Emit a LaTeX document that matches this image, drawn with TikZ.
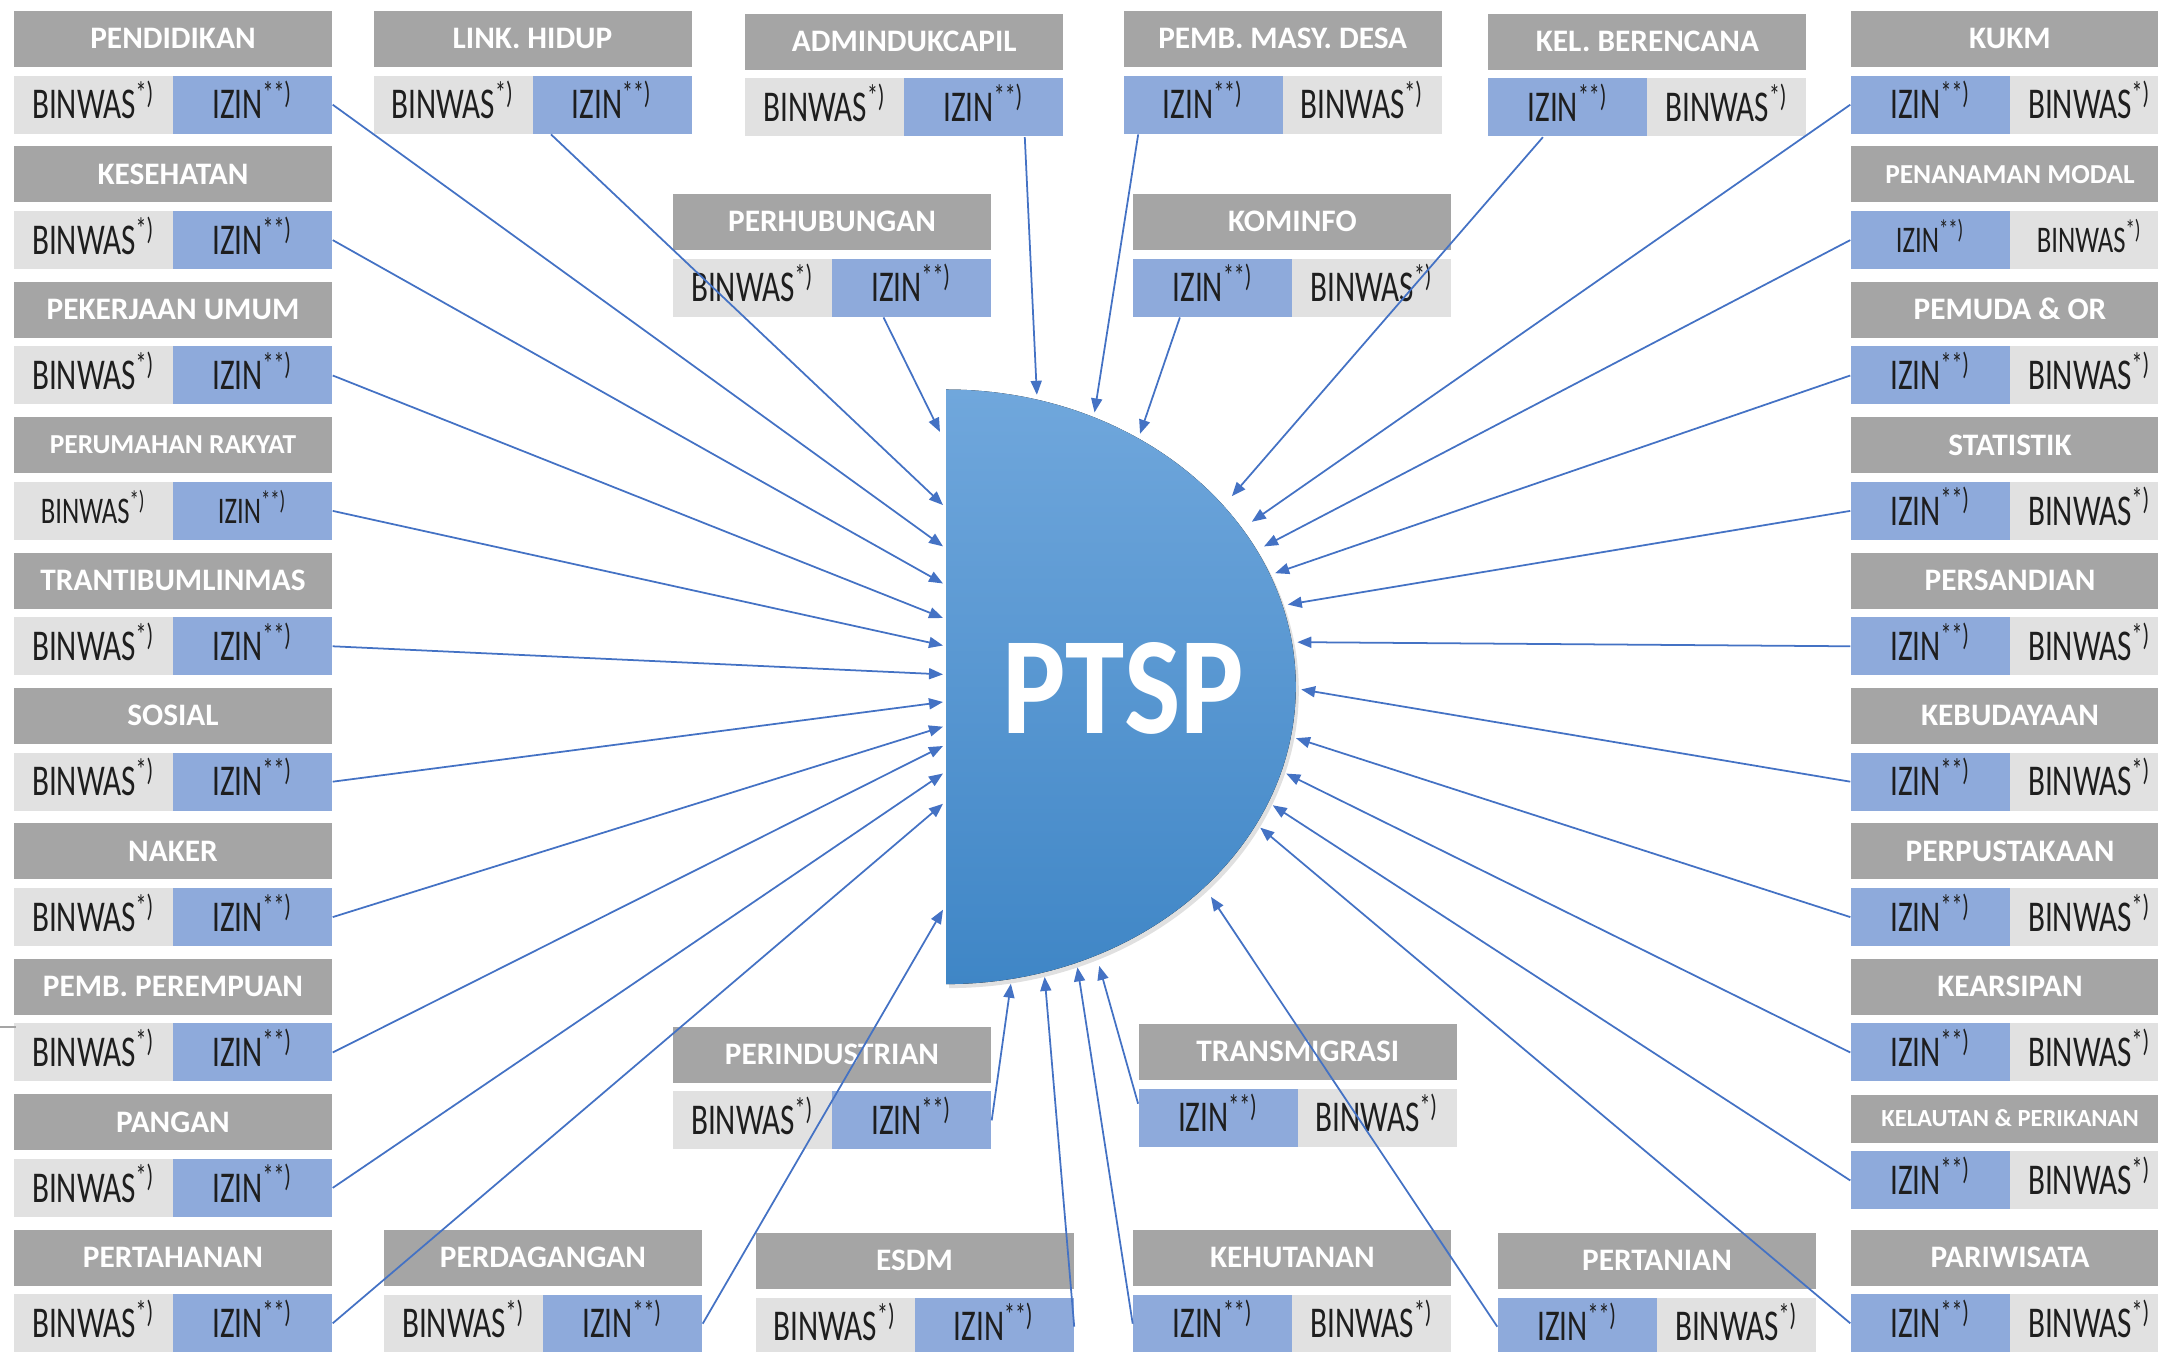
\documentclass[tikz,border=0pt]{standalone}
\usepackage{fontspec}
\setmainfont{Carlito}
\newfontfamily\rowfont[FakeStretch=0.71]{Carlito}
\newfontfamily\ptspfont[FakeStretch=0.86]{Carlito}
\usetikzlibrary{arrows.meta}
\pgfdeclarelayer{edgelayer}
\pgfdeclarelayer{nodelayer}
\pgfsetlayers{nodelayer,main,edgelayer}
\definecolor{hdrgrey}{RGB}{165,165,165}
\definecolor{cellgrey}{RGB}{225,225,225}
\definecolor{cellblue}{RGB}{142,170,219}
\definecolor{linkblue}{RGB}{68,114,196}
\definecolor{ptsptop}{RGB}{112,167,220}
\definecolor{ptspbottom}{RGB}{63,134,198}
\definecolor{txtgrey}{RGB}{30,30,30}
\tikzstyle{grey}=[rectangle,fill=hdrgrey,text=white,minimum width=3.18cm,minimum height=0.56cm,inner sep=0pt,text height=2mm,text depth=0pt,font=\fontsize{8.9}{10}\selectfont\bfseries]
\tikzstyle{lightgrey}=[rectangle,fill=cellgrey,text=txtgrey,minimum width=1.59cm,minimum height=0.58cm,inner sep=0pt,text height=2.85mm,text depth=0pt,font=\rowfont\fontsize{12.5}{14}\selectfont]
\tikzstyle{lightblue}=[lightgrey,fill=cellblue]
\tikzstyle{tinyhead}=[font=\fontsize{7.8}{9}\selectfont\bfseries,text height=1.75mm]
\tikzstyle{tinierhead}=[font=\fontsize{7}{8}\selectfont\bfseries,text height=1.6mm,minimum height=0.48cm]
\tikzstyle{tinycell}=[font=\rowfont\fontsize{10.7}{12}\selectfont,text height=2.45mm]
\tikzstyle{bigwhite}=[text=white,inner sep=0pt,font=\ptspfont\fontsize{39.5}{40}\selectfont\bfseries]
\tikzstyle{blueline}=[draw=linkblue,line width=0.5pt,-{Triangle[length=1.4mm,width=1.1mm]}]
\newcommand{\binwas}{BINWAS\textsuperscript{*)}}
\newcommand{\izin}{IZIN\textsuperscript{**)}}

\begin{document}
\begin{tikzpicture}
	\useasboundingbox (0,0) rectangle (21.58,-13.52);
	\begin{pgfonlayer}{nodelayer}
		\node [style=grey] (0) at (1.730,-0.390) {PENDIDIKAN};
		\node [style=lightgrey] (1) at (0.935,-1.047) {\binwas};
		\node [style=lightblue] (2) at (2.525,-1.047) {\izin};
		\node [style=grey] (3) at (1.730,-1.744) {KESEHATAN};
		\node [style=lightgrey] (4) at (0.935,-2.401) {\binwas};
		\node [style=lightblue] (5) at (2.525,-2.401) {\izin};
		\node [style=grey] (6) at (1.730,-3.098) {PEKERJAAN UMUM};
		\node [style=lightgrey] (7) at (0.935,-3.755) {\binwas};
		\node [style=lightblue] (8) at (2.525,-3.755) {\izin};
		\node [style=grey,tinyhead] (9) at (1.730,-4.452) {PERUMAHAN RAKYAT};
		\node [style=lightgrey,tinycell] (10) at (0.935,-5.109) {\binwas};
		\node [style=lightblue,tinycell] (11) at (2.525,-5.109) {\izin};
		\node [style=grey] (12) at (1.730,-5.806) {TRANTIBUMLINMAS};
		\node [style=lightgrey] (13) at (0.935,-6.463) {\binwas};
		\node [style=lightblue] (14) at (2.525,-6.463) {\izin};
		\node [style=grey] (15) at (1.730,-7.160) {SOSIAL};
		\node [style=lightgrey] (16) at (0.935,-7.817) {\binwas};
		\node [style=lightblue] (17) at (2.525,-7.817) {\izin};
		\node [style=grey] (18) at (1.730,-8.514) {NAKER};
		\node [style=lightgrey] (19) at (0.935,-9.171) {\binwas};
		\node [style=lightblue] (20) at (2.525,-9.171) {\izin};
		\node [style=grey] (21) at (1.730,-9.868) {PEMB. PEREMPUAN};
		\node [style=lightgrey] (22) at (0.935,-10.525) {\binwas};
		\node [style=lightblue] (23) at (2.525,-10.525) {\izin};
		\node [style=grey] (24) at (1.730,-11.222) {PANGAN};
		\node [style=lightgrey] (25) at (0.935,-11.879) {\binwas};
		\node [style=lightblue] (26) at (2.525,-11.879) {\izin};
		\node [style=grey] (27) at (1.730,-12.576) {PERTAHANAN};
		\node [style=lightgrey] (28) at (0.935,-13.233) {\binwas};
		\node [style=lightblue] (29) at (2.525,-13.233) {\izin};
		\node [style=grey] (30) at (5.325,-0.390) {LINK. HIDUP};
		\node [style=lightgrey] (31) at (4.530,-1.047) {\binwas};
		\node [style=lightblue] (32) at (6.120,-1.047) {\izin};
		\node [style=grey] (33) at (9.043,-0.418) {ADMINDUKCAPIL};
		\node [style=lightgrey] (34) at (8.248,-1.075) {\binwas};
		\node [style=lightblue] (35) at (9.838,-1.075) {\izin};
		\node [style=grey] (36) at (12.827,-0.390) {PEMB. MASY. DESA};
		\node [style=lightgrey] (37) at (13.622,-1.047) {\binwas};
		\node [style=lightblue] (38) at (12.032,-1.047) {\izin};
		\node [style=grey] (39) at (16.474,-0.418) {KEL. BERENCANA};
		\node [style=lightgrey] (40) at (17.269,-1.075) {\binwas};
		\node [style=lightblue] (41) at (15.679,-1.075) {\izin};
		\node [style=grey] (42) at (8.320,-2.220) {PERHUBUNGAN};
		\node [style=lightgrey] (43) at (7.525,-2.877) {\binwas};
		\node [style=lightblue] (44) at (9.115,-2.877) {\izin};
		\node [style=grey] (45) at (12.924,-2.220) {KOMINFO};
		\node [style=lightgrey] (46) at (13.719,-2.877) {\binwas};
		\node [style=lightblue] (47) at (12.129,-2.877) {\izin};
		\node [style=grey] (48) at (8.320,-10.547) {PERINDUSTRIAN};
		\node [style=lightgrey] (49) at (7.525,-11.204) {\binwas};
		\node [style=lightblue] (50) at (9.115,-11.204) {\izin};
		\node [style=grey] (51) at (12.978,-10.520) {TRANSMIGRASI};
		\node [style=lightgrey] (52) at (13.773,-11.177) {\binwas};
		\node [style=lightblue] (53) at (12.183,-11.177) {\izin};
		\node [style=grey] (54) at (5.430,-12.580) {PERDAGANGAN};
		\node [style=lightgrey] (55) at (4.635,-13.237) {\binwas};
		\node [style=lightblue] (56) at (6.225,-13.237) {\izin};
		\node [style=grey] (57) at (9.145,-12.610) {ESDM};
		\node [style=lightgrey] (58) at (8.350,-13.267) {\binwas};
		\node [style=lightblue] (59) at (9.940,-13.267) {\izin};
		\node [style=grey] (60) at (12.924,-12.580) {KEHUTANAN};
		\node [style=lightgrey] (61) at (13.719,-13.237) {\binwas};
		\node [style=lightblue] (62) at (12.129,-13.237) {\izin};
		\node [style=grey] (63) at (16.570,-12.610) {PERTANIAN};
		\node [style=lightgrey] (64) at (17.365,-13.267) {\binwas};
		\node [style=lightblue] (65) at (15.775,-13.267) {\izin};
		\node [style=grey] (66) at (20.100,-0.390) {KUKM};
		\node [style=lightgrey] (67) at (20.895,-1.047) {\binwas};
		\node [style=lightblue] (68) at (19.305,-1.047) {\izin};
		\node [style=grey,tinyhead] (69) at (20.100,-1.744) {PENANAMAN MODAL};
		\node [style=lightgrey,tinycell] (70) at (20.895,-2.401) {\binwas};
		\node [style=lightblue,tinycell] (71) at (19.305,-2.401) {\izin};
		\node [style=grey] (72) at (20.100,-3.098) {PEMUDA \& OR};
		\node [style=lightgrey] (73) at (20.895,-3.755) {\binwas};
		\node [style=lightblue] (74) at (19.305,-3.755) {\izin};
		\node [style=grey] (75) at (20.100,-4.452) {STATISTIK};
		\node [style=lightgrey] (76) at (20.895,-5.109) {\binwas};
		\node [style=lightblue] (77) at (19.305,-5.109) {\izin};
		\node [style=grey] (78) at (20.100,-5.806) {PERSANDIAN};
		\node [style=lightgrey] (79) at (20.895,-6.463) {\binwas};
		\node [style=lightblue] (80) at (19.305,-6.463) {\izin};
		\node [style=grey] (81) at (20.100,-7.160) {KEBUDAYAAN};
		\node [style=lightgrey] (82) at (20.895,-7.817) {\binwas};
		\node [style=lightblue] (83) at (19.305,-7.817) {\izin};
		\node [style=grey] (84) at (20.100,-8.514) {PERPUSTAKAAN};
		\node [style=lightgrey] (85) at (20.895,-9.171) {\binwas};
		\node [style=lightblue] (86) at (19.305,-9.171) {\izin};
		\node [style=grey] (87) at (20.100,-9.868) {KEARSIPAN};
		\node [style=lightgrey] (88) at (20.895,-10.525) {\binwas};
		\node [style=lightblue] (89) at (19.305,-10.525) {\izin};
		\node [style=grey,tinierhead] (90) at (20.100,-11.190) {KELAUTAN \& PERIKANAN};
		\node [style=lightgrey] (91) at (20.895,-11.805) {\binwas};
		\node [style=lightblue] (92) at (19.305,-11.805) {\izin};
		\node [style=grey] (93) at (20.100,-12.576) {PARIWISATA};
		\node [style=lightgrey] (94) at (20.895,-13.233) {\binwas};
		\node [style=lightblue] (95) at (19.305,-13.233) {\izin};
		\fill [black,opacity=0.12] (9.492,-3.935) arc [start angle=90,end angle=-90,x radius=3.496,y radius=2.973] -- cycle;
		\fill [top color=ptsptop,bottom color=ptspbottom] (9.462,-3.895) arc [start angle=90,end angle=-90,x radius=3.496,y radius=2.973] -- cycle;
		\node [style=bigwhite] (96) at (11.233,-6.880) {PTSP};
		\draw [hdrgrey,line width=0.8pt] (0,-10.27) -- (0.16,-10.27);
	\end{pgfonlayer}
	\coordinate (c) at (9.462,-6.868);
	\coordinate (t0) at (9.43,-5.464);
	\coordinate (t1) at (9.43,-5.835);
	\coordinate (t2) at (9.43,-6.180);
	\coordinate (t3) at (9.43,-6.455);
	\coordinate (t4) at (9.43,-6.744);
	\coordinate (t5) at (9.43,-7.020);
	\coordinate (t6) at (9.43,-7.267);
	\coordinate (t7) at (9.43,-7.460);
	\coordinate (t8) at (9.43,-7.735);
	\coordinate (t9) at (9.43,-8.038);
	\coordinate (t10) at (9.43,-5.051);
	\path (c) ++(75.2:3.55 and 3.02) coordinate (t11);
	\path (c) ++(65.3:3.55 and 3.02) coordinate (t12);
	\path (c) ++(38.1:3.63 and 3.09) coordinate (t13);
	\coordinate (t14) at (9.40,-4.320);
	\path (c) ++(56.9:3.55 and 3.02) coordinate (t15);
	\path (c) ++(-79.5:3.55 and 3.02) coordinate (t16);
	\path (c) ++(-65:3.62 and 3.08) coordinate (t17);
	\coordinate (t18) at (9.43,-9.097);
	\path (c) ++(-73.9:3.55 and 3.02) coordinate (t19);
	\path (c) ++(-68.3:3.55 and 3.02) coordinate (t20);
	\path (c) ++(-43:3.62 and 3.08) coordinate (t21);
	\path (c) ++(32.4:3.62 and 3.08) coordinate (t22);
	\path (c) ++(27.4:3.58 and 3.05) coordinate (t23);
	\path (c) ++(22.1:3.55 and 3.02) coordinate (t24);
	\path (c) ++(15.8:3.55 and 3.02) coordinate (t25);
	\path (c) ++(8.5:3.55 and 3.02) coordinate (t26);
	\path (c) ++(-0.5:3.55 and 3.02) coordinate (t27);
	\path (c) ++(-9.8:3.55 and 3.02) coordinate (t28);
	\path (c) ++(-16.7:3.55 and 3.02) coordinate (t29);
	\path (c) ++(-23.1:3.55 and 3.02) coordinate (t30);
	\path (c) ++(-27.8:3.55 and 3.02) coordinate (t31);
	\begin{pgfonlayer}{edgelayer}
		\draw [style=blueline] (2.east) -- (t0);
		\draw [style=blueline] (5.east) -- (t1);
		\draw [style=blueline] (8.east) -- (t2);
		\draw [style=blueline] (11.east) -- (t3);
		\draw [style=blueline] (14.east) -- (t4);
		\draw [style=blueline] (17.east) -- (t5);
		\draw [style=blueline] (20.east) -- (t6);
		\draw [style=blueline] (23.east) -- (t7);
		\draw [style=blueline] (26.east) -- (t8);
		\draw [style=blueline] (29.east) -- (t9);
		\draw [style=blueline] ([xshift=-6.1mm]32.south) -- (t10);
		\draw [style=blueline] ([xshift=4.1mm]35.south) -- (t11);
		\draw [style=blueline] ([xshift=-6.5mm]38.south) -- (t12);
		\draw [style=blueline] ([xshift=-2.5mm]41.south) -- (t13);
		\draw [style=blueline] ([xshift=-2.8mm]44.south) -- (t14);
		\draw [style=blueline] ([xshift=-3.3mm]47.south) -- (t15);
		\draw [style=blueline] (50.east) -- (t16);
		\draw [style=blueline] ([yshift=1.4mm]53.west) -- (t17);
		\draw [style=blueline] (56.east) -- (t18);
		\draw [style=blueline] (59.east) -- (t19);
		\draw [style=blueline] (62.west) -- (t20);
		\draw [style=blueline] (65.west) -- (t21);
		\draw [style=blueline] (68.west) -- (t22);
		\draw [style=blueline] (71.west) -- (t23);
		\draw [style=blueline] (74.west) -- (t24);
		\draw [style=blueline] (77.west) -- (t25);
		\draw [style=blueline] (80.west) -- (t26);
		\draw [style=blueline] (83.west) -- (t27);
		\draw [style=blueline] (86.west) -- (t28);
		\draw [style=blueline] (89.west) -- (t29);
		\draw [style=blueline] (92.west) -- (t30);
		\draw [style=blueline] (95.west) -- (t31);
	\end{pgfonlayer}
\end{tikzpicture}
\end{document}
